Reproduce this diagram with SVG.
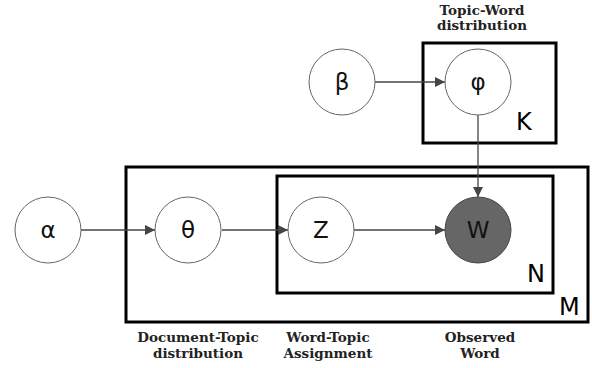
<svg xmlns="http://www.w3.org/2000/svg" width="592" height="368" viewBox="0 0 592 368">
<style>
.plate{fill:none;stroke:#000;stroke-width:3}
.node{fill:#fff;stroke:#666;stroke-width:1}
.obs{fill:#666;stroke:#444;stroke-width:1}
.sym{font-family:"DejaVu Sans",sans-serif;font-size:23px;fill:#111;text-anchor:middle}
.plab{font-family:"DejaVu Sans",sans-serif;font-size:24px;fill:#000}
.cap{font-family:"DejaVu Serif",serif;font-weight:bold;font-size:13.5px;fill:#222;text-anchor:middle}
.edge{stroke:#444;stroke-width:1.3;fill:none;marker-end:url(#ah)}
</style>
<defs>
<marker id="ah" markerWidth="10" markerHeight="10" refX="10" refY="5" orient="auto" markerUnits="userSpaceOnUse">
<path d="M0,0 L10,5 L0,10 Z" fill="#444"/>
</marker>
</defs>
<rect width="592" height="368" fill="#fff"/>
<g id="plate-M"><rect class="plate" x="126" y="167" width="462" height="155"/><text class="plab" x="559" y="315">M</text></g>
<g id="plate-N"><rect class="plate" x="277" y="176" width="276" height="117"/><text class="plab" x="527" y="282">N</text></g>
<g id="plate-K"><rect class="plate" x="423" y="43" width="133" height="100"/><text class="plab" x="516" y="130">K</text></g>
<g id="connectors">
<line class="edge" x1="81" y1="230" x2="155" y2="230"/>
<line class="edge" x1="222" y1="230" x2="288" y2="230"/>
<line class="edge" x1="354" y1="230" x2="445" y2="230"/>
<line class="edge" x1="375" y1="82" x2="445" y2="82"/>
<line class="edge" x1="478" y1="115" x2="478" y2="197"/>
</g>
<g id="alpha"><circle class="node" cx="48" cy="230" r="33"/><text class="sym" x="48" y="238">α</text></g>
<g id="theta"><circle class="node" cx="188" cy="230" r="33"/><text class="sym" x="188" y="238">θ</text></g>
<g id="z"><circle class="node" cx="321" cy="230" r="33"/><text class="sym" x="321" y="238">Z</text></g>
<g id="w"><circle class="obs" cx="478" cy="230" r="33"/><text class="sym" x="478" y="238">W</text></g>
<g id="beta"><circle class="node" cx="342" cy="82" r="33"/><text class="sym" x="342" y="90">β</text></g>
<g id="phi"><circle class="node" cx="478" cy="82" r="33"/><text class="sym" x="478" y="90">φ</text></g>
<g id="captions">
<text class="cap" x="482" y="15">Topic-Word</text>
<text class="cap" x="482" y="30">distribution</text>
<text class="cap" x="198" y="342">Document-Topic</text>
<text class="cap" x="198" y="358">distribution</text>
<text class="cap" x="328" y="342">Word-Topic</text>
<text class="cap" x="328" y="358">Assignment</text>
<text class="cap" x="480" y="342">Observed</text>
<text class="cap" x="480" y="358">Word</text>
</g>
</svg>
